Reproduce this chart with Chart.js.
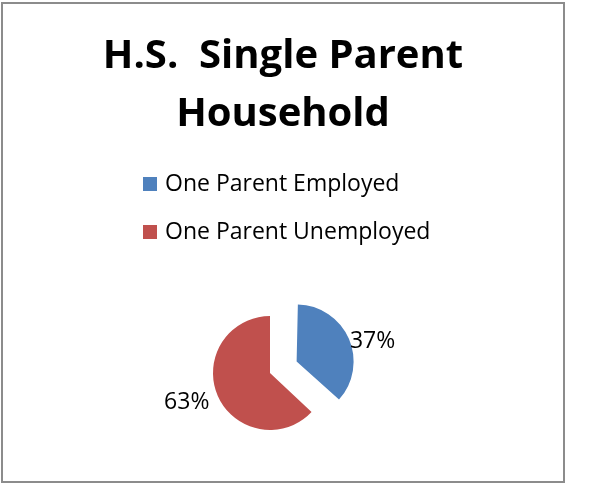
<!DOCTYPE html>
<html>
<head>
<meta charset="utf-8">
<script src="https://cdn.jsdelivr.net/npm/chart.js@4.4.1/dist/chart.umd.min.js"></script>
<style>
    body { margin: 0; background: #fff; }
    #frame {
        position: absolute;
        left: 1px;
        top: 2px;
        width: 560px;
        height: 477px;
        border: 2px solid #8c8c8c;
    }
    canvas { display: block; }
</style>
</head>
<body>
<div id="frame"><canvas id="chart-household" width="560" height="477"></canvas></div>
<script>
const titleLines = ['H.S.  Single Parent', 'Household'];
const categories = ['One Parent Employed', 'One Parent Unemployed'];
const shares = [37, 63];

// chart.js grows a pulled-out slice by part of its offset; undo that so both slices share one radius
const keepRadius = {
    id: 'keepRadius',
    afterDatasetUpdate(chart, args) {
        const offsets = chart.data.datasets[args.index].offset || [];
        args.meta.data.forEach((arc, i) => {
            const push = (offsets[i] || 0) / 4;
            const sweep = arc.endAngle - arc.startAngle;
            arc.outerRadius -= push * (1 - Math.sin(Math.min(Math.PI, sweep)));
        });
    }
};

// heading and key, drawn above the pie
const header = {
    id: 'header',
    afterDraw(chart) {
        const {ctx} = chart;
        const colors = chart.data.datasets[0].backgroundColor;
        ctx.save();
        ctx.fillStyle = '#000';
        ctx.textAlign = 'center';
        ctx.textBaseline = 'alphabetic';
        ctx.font = 'bold 40px "Open Sans"';
        titleLines.forEach((line, i) => ctx.fillText(line, chart.width / 2, 64 + i * 58));

        ctx.textAlign = 'left';
        ctx.textBaseline = 'middle';
        ctx.font = '23px "Open Sans"';
        chart.data.labels.forEach((name, i) => {
            const y = 180 + i * 48;
            ctx.fillStyle = colors[i];
            ctx.fillRect(140, y - 7, 14, 14);
            ctx.fillStyle = '#000';
            ctx.fillText(name, 162, y);
        });
        ctx.restore();
    }
};

// percentage next to the outer edge of each slice
const sliceLabels = {
    id: 'sliceLabels',
    afterDatasetsDraw(chart) {
        const {ctx} = chart;
        const ds = chart.data.datasets[0];
        ctx.save();
        ctx.font = '23px "Open Sans"';
        ctx.fillStyle = '#000';
        ctx.textBaseline = 'middle';
        chart.getDatasetMeta(0).data.forEach((arc, i) => {
            const mid = (arc.startAngle + arc.endAngle) / 2;
            const r = (ds.offset[i] || 0) / 4 + arc.outerRadius + 9;
            ctx.textAlign = Math.cos(mid) >= 0 ? 'left' : 'right';
            ctx.fillText(ds.data[i] + '%', arc.x + Math.cos(mid) * r, arc.y + Math.sin(mid) * r + 3);
        });
        ctx.restore();
    }
};

let chartHousehold = new Chart(document.getElementById('chart-household'), {
    type: 'pie',
    data: {
        labels: categories,
        datasets: [{
            data: shares,
            backgroundColor: ['#4f81bd', '#c0504d'],
            borderWidth: 0,
            offset: [116, 0],
            radius: 57
        }]
    },
    options: {
        responsive: false,
        animation: false,
        events: [],
        layout: {
            padding: {left: 127, right: 153, top: 269, bottom: 8}
        },
        plugins: {
            legend: {display: false},
            title: {display: false},
            tooltip: {enabled: false}
        }
    },
    plugins: [keepRadius, header, sliceLabels]
});
</script>
</body>
</html>
